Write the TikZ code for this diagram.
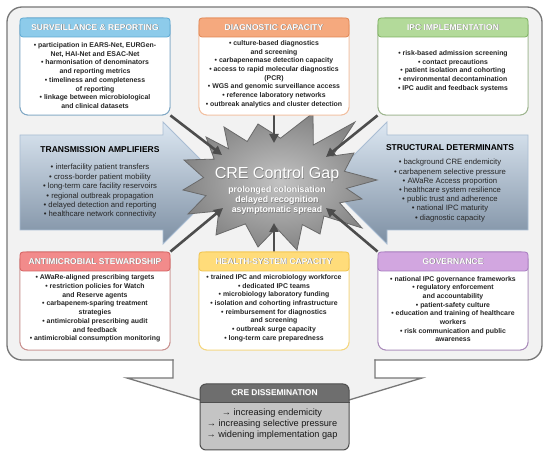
\documentclass[tikz,border=0pt]{standalone}
\usepackage{fontspec}
\setmainfont{Liberation Sans}
\usetikzlibrary{arrows.meta}
\definecolor{bgc}{HTML}{F2F2F2}
\definecolor{outerc}{HTML}{777777}
\definecolor{txt}{HTML}{262626}
\definecolor{survh}{HTML}{8DCBEA}\definecolor{survhb}{HTML}{5DA9D3}\definecolor{survb}{HTML}{7FA7C4}
\definecolor{diagh}{HTML}{F5A97E}\definecolor{diaghb}{HTML}{E08552}\definecolor{diagb}{HTML}{F2BF9F}
\definecolor{ipch}{HTML}{B3DA9A}\definecolor{ipchb}{HTML}{7DB25F}\definecolor{ipcb}{HTML}{9DB58E}
\definecolor{amsh}{HTML}{F28B8B}\definecolor{amshb}{HTML}{D45F5F}\definecolor{amsb}{HTML}{C9918F}
\definecolor{hsch}{HTML}{FFDC7A}\definecolor{hschb}{HTML}{F0C24A}\definecolor{hscb}{HTML}{F5D67C}
\definecolor{govh}{HTML}{D2A6E0}\definecolor{govhb}{HTML}{A77BBF}\definecolor{govb}{HTML}{A98BBA}
\definecolor{arrtop}{HTML}{DCE7F2}\definecolor{arrbot}{HTML}{7D8FA3}\definecolor{arrborder}{HTML}{A9BDD3}
\definecolor{starin}{HTML}{C2C2C2}\definecolor{starout}{HTML}{858585}\definecolor{starb}{HTML}{6A6A6A}
\definecolor{conncol}{HTML}{4D4D4D}
\definecolor{dhead}{HTML}{6E6E6E}\definecolor{dbody}{HTML}{C4C4C4}\definecolor{dborder}{HTML}{4F4F4F}
\newcommand\shtext[1]{\leavevmode\rlap{\kern0.6pt\raisebox{-0.6pt}{\textcolor{black!50}{#1}}}\textcolor{white}{#1}}
\begin{document}
\begin{tikzpicture}[x=1pt,y=-1pt,
  bodybox/.style={draw, fill=white, rounded corners=8pt, line width=0.9pt, minimum width=150pt, inner sep=0pt},
  headbox/.style={draw, rounded corners=3pt, line width=0.8pt, minimum width=150pt, minimum height=19pt, inner sep=0pt, font=\fontsize{8.5}{10}\selectfont\bfseries},
  bodytext/.style={align=center, inner sep=0pt, text=txt, font=\fontsize{6.9}{8.7}\selectfont\bfseries},
  arrtext/.style={align=center, inner sep=0pt, text=txt, font=\fontsize{7.7}{9.4}\selectfont},
  bahead/.style={align=center, inner sep=0pt, text=black, font=\fontsize{8.5}{10}\selectfont\bfseries},
  conn/.style={draw=conncol, line width=2.6pt, -{Triangle[length=9pt,width=9pt]}},
  blockarrow/.style={draw=arrborder, line width=0.8pt, top color=arrtop, bottom color=arrbot},
  outerline/.style={draw=outerc, line width=1.3pt},
]
\useasboundingbox (0,0) rectangle (550,457);
\fill[white] (0,0) rectangle (550,457);

% outer callout
\draw[outerline, fill=bgc, rounded corners=15pt] (7,7) rectangle (542,360);
\fill[bgc] (173.6,358) -- (173.6,378) -- (127,378) -- (200,400) -- (349,400) -- (422,378) -- (374.4,378) -- (374.4,358) -- cycle;
\draw[outerline] (173,359.4) -- (173,378) -- (127,378) -- (200,400);
\draw[outerline] (375,359.4) -- (375,378) -- (422,378) -- (349,400);

% block arrows
\draw[blockarrow] (20,135) -- (163,135) -- (163,122) -- (224,183) -- (163,244) -- (163,230) -- (20,230) -- cycle;
\node[bahead] (tahead) at (100,150) {TRANSMISSION AMPLIFIERS};
\node[arrtext] (tabody) at (100,191.5) {• interfacility patient transfers\\• cross-border patient mobility\\• long-term care facility reservoirs\\• regional outbreak propagation\\• delayed detection and reporting\\• healthcare network connectivity};

\draw[blockarrow] (528,135) -- (387,135) -- (387,122) -- (326,183) -- (387,244) -- (387,230) -- (528,230) -- cycle;
\node[bahead] (sdhead) at (450,148) {STRUCTURAL DETERMINANTS};
\node[arrtext, font=\fontsize{7.7}{9.2}\selectfont] (sdbody) at (450,190.5) {• background CRE endemicity\\• carbapenem selective pressure\\• AWaRe Access proportion\\• healthcare system resilience\\• public trust and adherence\\• national IPC maturity\\• diagnostic capacity};

% star
\draw[draw=starb, line width=0.8pt, inner color=starin, outer color=starout]
  (258,124) -- (280.5,138.2) -- (313,113) -- (313.3,145) -- (355,122) -- (332.5,156) -- (354,153) -- (344.4,171.3)
  -- (377,180) -- (346.4,188.4) -- (362,199) -- (339.6,202.8) -- (362,228) -- (323.9,216) -- (320,234) -- (302.3,224.6)
  -- (297,250) -- (276.4,227.9) -- (258,247) -- (245.4,223.9) -- (216,235) -- (218.8,211) -- (188,214) -- (206,195.6)
  -- (183,190) -- (203.6,177.6) -- (184,160) -- (214.2,159.1) -- (206,137) -- (228.5,148.8) -- (224,127) -- (247.2,141.5) -- cycle;
\node[inner sep=0pt, font=\fontsize{16}{18}\selectfont] (gaptitle) at (277,175) {\shtext{CRE Control Gap}};
\node[inner sep=0pt, align=center, font=\fontsize{8.8}{10.4}\selectfont\bfseries] (gapsub) at (277,200.5) {\shtext{prolonged colonisation}\\\shtext{delayed recognition}\\\shtext{asymptomatic spread}};

% boxes
\node[bodybox, draw=survb, minimum height=97pt] (surv) at (95,66.5) {};
\node[bodybox, draw=diagb, minimum height=97pt] (diag) at (274,66.5) {};
\node[bodybox, draw=ipcb, minimum height=97pt] (ipc) at (453,66.5) {};
\node[bodybox, draw=amsb, minimum height=98pt] (ams) at (95,301) {};
\node[bodybox, draw=hscb, minimum height=98pt] (hsc) at (274,301) {};
\node[bodybox, draw=govb, minimum height=98pt] (gov) at (453,301) {};

% connectors
\coordinate (gapA) at (222,155);
\coordinate (gapB) at (274,143);
\coordinate (gapC) at (326,157);
\coordinate (gapD) at (223,208);
\coordinate (gapE) at (274,223);
\coordinate (gapF) at (326,208);
\draw[conn] (surv.south east) -- (gapA);
\draw[conn] (diag.south) -- (gapB);
\draw[conn] (ipc.south west) -- (gapC);
\draw[conn] (ams.north east) -- (gapD);
\draw[conn] (hsc.north) -- (gapE);
\draw[conn] (gov.north west) -- (gapF);

% redraw boxes over connector starts
\node[bodybox, draw=survb, minimum height=97pt] at (surv) {};
\node[bodybox, draw=diagb, minimum height=97pt] at (diag) {};
\node[bodybox, draw=ipcb, minimum height=97pt] at (ipc) {};
\node[bodybox, draw=amsb, minimum height=98pt] at (ams) {};
\node[bodybox, draw=hscb, minimum height=98pt] at (hsc) {};
\node[bodybox, draw=govb, minimum height=98pt] at (gov) {};

\node[headbox, fill=survh, draw=survhb] (survhd) at (95,27.5) {\shtext{SURVEILLANCE \& REPORTING}};
\node[headbox, fill=diagh, draw=diaghb] (diaghd) at (274,27.5) {\shtext{DIAGNOSTIC CAPACITY}};
\node[headbox, fill=ipch, draw=ipchb] (ipchd) at (453,27.5) {\shtext{IPC IMPLEMENTATION}};
\node[headbox, fill=amsh, draw=amshb] (amshd) at (95,261.5) {\shtext{ANTIMICROBIAL STEWARDSHIP}};
\node[headbox, fill=hsch, draw=hschb] (hschd) at (274,261.5) {\shtext{HEALTH-SYSTEM CAPACITY}};
\node[headbox, fill=govh, draw=govhb] (govhd) at (453,261.5) {\shtext{GOVERNANCE}};

\node[bodytext] (survtx) at (95,75.5) {• participation in EARS-Net, EURGen-\\Net, HAI-Net and ESAC-Net\\• harmonisation of denominators\\and reporting metrics\\• timeliness and completeness\\of reporting\\• linkage between microbiological\\and clinical datasets};
\node[bodytext] (diagtx) at (274,74) {• culture-based diagnostics\\and screening\\• carbapenemase detection capacity\\• access to rapid molecular diagnostics\\(PCR)\\• WGS and genomic surveillance access\\• reference laboratory networks\\• outbreak analytics and cluster detection};
\node[bodytext] (ipctx) at (453,71) {• risk-based admission screening\\• contact precautions\\• patient isolation and cohorting\\• environmental decontamination\\• IPC audit and feedback systems};
\node[bodytext] (amstx) at (95,308.5) {• AWaRe-aligned prescribing targets\\• restriction policies for Watch\\and Reserve agents\\• carbapenem-sparing treatment\\strategies\\• antimicrobial prescribing audit\\and feedback\\• antimicrobial consumption monitoring};
\node[bodytext] (hsctx) at (274,308) {• trained IPC and microbiology workforce\\• dedicated IPC teams\\• microbiology laboratory funding\\• isolation and cohorting infrastructure\\• reimbursement for diagnostics\\and screening\\• outbreak surge capacity\\• long-term care preparedness};
\node[bodytext] (govtx) at (453,309) {• national IPC governance frameworks\\• regulatory enforcement\\and accountability\\• patient-safety culture\\• education and training of healthcare\\workers\\• risk communication and public\\awareness};

% dissemination
\fill[dbody, rounded corners=6pt] (200,384) rectangle (349,450);
\begin{scope}
\clip (195,380) rectangle (355,402);
\fill[dhead, rounded corners=6pt] (200,384) rectangle (349,450);
\end{scope}
\node[draw=dborder, line width=1pt, rounded corners=6pt, minimum width=149pt, minimum height=66pt, inner sep=0pt] (diss) at (274.5,417) {};
\draw[dborder, line width=0.8pt] (diss.west |- 0,402) -- (diss.east |- 0,402);
\node[inner sep=0pt, font=\fontsize{8.4}{10}\selectfont\bfseries] (disshd) at (274.5,393) {\shtext{CRE DISSEMINATION}};
\node[inner sep=0pt, align=center, text=black!90, font=\fontsize{9.2}{10.8}\selectfont] (disstx) at (272,424) {→ increasing endemicity\\→ increasing selective pressure\\→ widening implementation gap};
\end{tikzpicture}
\end{document}
